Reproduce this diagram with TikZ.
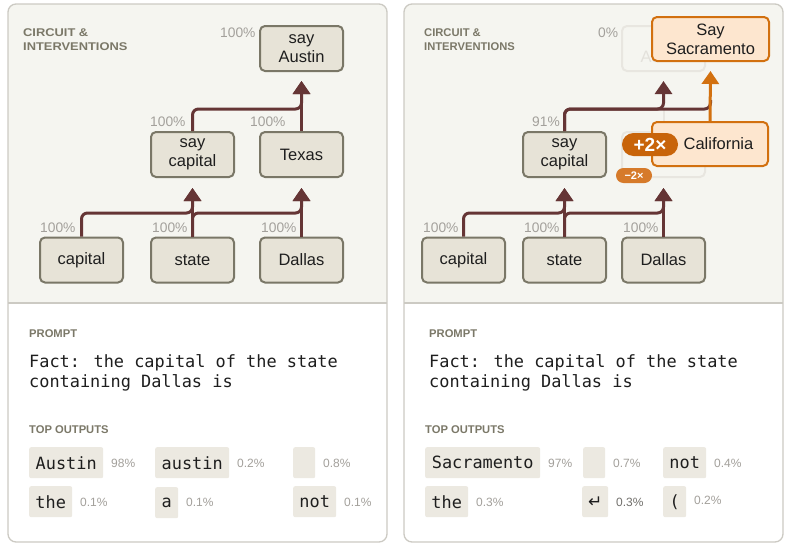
\documentclass[tikz,border=0pt]{standalone}
\usepackage{fontspec}
\setmainfont{Liberation Sans}
\newfontfamily\monof{DejaVu Sans Mono}
\newfontfamily\symf{DejaVu Sans}
\usetikzlibrary{arrows.meta}
\definecolor{panelbg}{HTML}{F5F5F0}
\definecolor{panelborder}{HTML}{CCCAC3}
\definecolor{nodefill}{HTML}{E7E3D7}
\definecolor{nodeborder}{HTML}{7A7767}
\definecolor{conncol}{HTML}{653535}
\definecolor{pctgray}{HTML}{A3A09B}
\definecolor{headcol}{HTML}{7B7868}
\definecolor{chipfill}{HTML}{ECE9E1}
\definecolor{orangeborder}{HTML}{D2700F}
\definecolor{orangefill}{HTML}{FDE6CF}
\definecolor{badgedark}{HTML}{C8640A}
\definecolor{badgelight}{HTML}{D67A2A}
\definecolor{ghostborder}{HTML}{E8E6E0}
\definecolor{ghosttext}{HTML}{E3E1DB}
\definecolor{inktext}{HTML}{1E1E1E}
\tikzset{
  box/.style={draw=nodeborder, fill=nodefill, line width=2pt, rounded corners=5pt,
    minimum width=83pt, minimum height=45pt, inner sep=0pt, align=center, text=inktext,
    font=\fontsize{16.5}{19}\selectfont},
  ghostbox/.style={box, draw=ghostborder, fill=panelbg, text=ghosttext},
  orangebox/.style={box, draw=orangeborder, fill=orangefill, minimum width=116pt, minimum height=44pt},
  pct/.style={anchor=west, inner sep=0pt, text=pctgray, font=\fontsize{13.8}{16}\selectfont},
  conn/.style={draw=conncol, line width=3pt, rounded corners=6pt, -{Triangle[length=13pt,width=17pt]}},
  orangeconn/.style={conn, draw=orangeborder},
  ghostconn/.style={draw=ghostborder, line width=2pt},
  chip/.style={fill=chipfill, rounded corners=2pt, minimum height=31pt, inner sep=0pt,
    anchor=north west, text=inktext, font=\monof\fontsize{16.9}{19}\selectfont},
  opct/.style={anchor=west, inner sep=0pt, text=pctgray, font=\fontsize{12}{14}\selectfont},
  sectlabel/.style={anchor=base west, inner sep=0pt, text=headcol, font=\bfseries\fontsize{11.2}{13}\selectfont},
  prompt/.style={anchor=base west, inner sep=0pt, text=inktext, font=\monof\fontsize{16.9}{20}\selectfont},
  panelline/.style={draw=panelborder, line width=1.3pt},
  badge/.style={rounded corners=11.5pt, minimum width=56pt, minimum height=23pt, inner sep=0pt,
    fill=badgedark, text=white, font=\bfseries\fontsize{19}{21}\selectfont},
  smallbadge/.style={rounded corners=7.5pt, minimum width=36pt, minimum height=15pt, inner sep=0pt,
    fill=badgelight, text=white, font=\bfseries\fontsize{11}{12}\selectfont}
}
\begin{document}
\begin{tikzpicture}[x=1pt,y=1pt]
\useasboundingbox (0,0) rectangle (788,-546);
% ---------- panels ----------
\begin{scope}
\clip[rounded corners=8pt] (8,-4) rectangle (387,-542);
\fill[white] (8,-4) rectangle (387,-542);
\fill[panelbg] (8,-4) rectangle (387,-303);
\end{scope}
\draw[panelline, rounded corners=8pt] (8,-4) rectangle (387,-542);
\draw[panelline] (8,-303) -- (387,-303);
\begin{scope}
\clip[rounded corners=8pt] (404,-4) rectangle (783,-542);
\fill[white] (404,-4) rectangle (783,-542);
\fill[panelbg] (404,-4) rectangle (783,-303);
\end{scope}
\draw[panelline, rounded corners=8pt] (404,-4) rectangle (783,-542);
\draw[panelline] (404,-303) -- (783,-303);

% ---------- left circuit ----------
\node[sectlabel] (Lh1) at (23,-36) {\scalebox{1.15}[1]{CIRCUIT \&}};
\node[sectlabel] (Lh2) at (23,-50) {\scalebox{1.15}[1]{INTERVENTIONS}};

\node[box] (Lcap) at (81.5,-260) {capital};
\node[box] (Lstate) at (192.5,-260) {state};
\node[box] (Ldal) at (301.5,-260) {Dallas};
\node[box] (Lsaycap) at (192.5,-154.5) {say\\capital};
\node[box] (Ltex) at (301.5,-154.5) {Texas};
\node[box] (Lsayaus) at (301.5,-48.5) {say\\Austin};

\node[pct] (Lp1) at (220,-33) {100\%};
\node[pct] (Lp2) at (150,-122) {100\%};
\node[pct] (Lp3) at (250,-122) {100\%};
\node[pct] (Lp4) at (40,-228) {100\%};
\node[pct] (Lp5) at (152,-228) {100\%};
\node[pct] (Lp6) at (261,-228) {100\%};

\draw[conn] (Lcap.north) |- ([yshift=-35pt]Lsaycap.south) -- ([yshift=-10pt]Lsaycap.south);
\draw[conn] (Lstate.north) -- ([yshift=-10pt]Lsaycap.south);
\draw[conn] (Lstate.north) |- ([yshift=-35pt]Ltex.south) -- ([yshift=-10pt]Ltex.south);
\draw[conn] (Ldal.north) -- ([yshift=-10pt]Ltex.south);
\draw[conn] (Lsaycap.north) |- ([yshift=-37pt]Lsayaus.south) -- ([yshift=-9pt]Lsayaus.south);
\draw[conn] (Ltex.north) -- ([yshift=-9pt]Lsayaus.south);

% ---------- right circuit ----------
\node[sectlabel] (Rh1) at (424,-36) {CIRCUIT \&};
\node[sectlabel] (Rh2) at (424,-50) {INTERVENTIONS};

\node[box] (Rcap) at (463.5,-260) {capital};
\node[box] (Rstate) at (564.5,-260) {state};
\node[box] (Rdal) at (663.5,-260) {Dallas};
\node[box] (Rsaycap) at (564.5,-154.5) {say\\capital};
\node[ghostbox] (Rtex) at (663.5,-154.5) {};
\node[ghostbox] (Rsayaus) at (663.5,-48.5) {\phantom{say}\\Au\phantom{stin}};

\node[pct] (Rp1) at (598,-33) {0\%};
\node[pct] (Rp2) at (532,-122) {91\%};
\node[pct] (Rp4) at (423,-228) {100\%};
\node[pct] (Rp5) at (524,-228) {100\%};
\node[pct] (Rp6) at (623,-228) {100\%};

\draw[ghostconn] (Rtex.north) -- ([yshift=-37pt]Rsayaus.south);
\draw[conn] (Rcap.north) |- ([yshift=-35pt]Rsaycap.south) -- ([yshift=-10pt]Rsaycap.south);
\draw[conn] (Rstate.north) -- ([yshift=-10pt]Rsaycap.south);
\draw[conn] (Rstate.north) |- ([yshift=-35pt]Rtex.south) -- ([yshift=-10pt]Rtex.south);
\draw[conn] (Rdal.north) -- ([yshift=-10pt]Rtex.south);
\draw[conn] (Rsaycap.north) |- ([yshift=-37pt]Rsayaus.south) -- ([yshift=-9pt]Rsayaus.south);

\node[orangebox] (Rcal) at (710,-144) {\hspace*{17pt}California};
\node[orangebox, minimum width=117pt] (Rsac) at (710.5,-39) {Say\\Sacramento};
\draw[conn, -] (Rsaycap.north) |- ([yshift=-47pt]Rsac.south) -- ([yshift=-38pt]Rsac.south);
\draw[orangeconn] (Rcal.north) -- ([yshift=-9pt]Rsac.south);
\node[badge] (Rplus) at (650,-144.5) {+2×};
\node[smallbadge] (Rminus) at (634,-175.5) {−2×};

% ---------- left bottom ----------
\node[sectlabel] (Lpr) at (29,-337.5) {PROMPT};
\node[prompt] (Lq1) at (29,-367) {Fact: the capital of the state};
\node[prompt] (Lq2) at (29,-387) {containing Dallas is};
\node[sectlabel] (Lto) at (29,-433) {TOP OUTPUTS};

\node[chip, minimum width=74pt] (Lc1) at (29,-447) {Austin};
\node[opct] (Lo1) at (111,-463) {98\%};
\node[chip, minimum width=74pt] (Lc2) at (155,-447) {austin};
\node[opct] (Lo2) at (237,-463) {0.2\%};
\node[chip, minimum width=22pt] (Lc3) at (293,-447) {};
\node[opct] (Lo3) at (323,-463) {0.8\%};
\node[chip, minimum width=43pt] (Lc4) at (29,-486) {the};
\node[opct] (Lo4) at (80,-502) {0.1\%};
\node[chip, minimum width=23pt] (Lc5) at (155,-487) {a};
\node[opct] (Lo5) at (186,-502) {0.1\%};
\node[chip, minimum width=43pt] (Lc6) at (293,-486) {not};
\node[opct] (Lo6) at (344,-502) {0.1\%};

% ---------- right bottom ----------
\node[sectlabel] (Rpr) at (429,-337.5) {PROMPT};
\node[prompt] (Rq1) at (429,-367) {Fact: the capital of the state};
\node[prompt] (Rq2) at (429,-387) {containing Dallas is};
\node[sectlabel] (Rto) at (425,-433) {TOP OUTPUTS};

\node[chip, minimum width=115pt] (Rc1) at (425,-447) {Sacramento};
\node[opct] (Ro1) at (548,-463) {97\%};
\node[chip, minimum width=22pt] (Rc2) at (583,-447) {};
\node[opct] (Ro2) at (613,-463) {0.7\%};
\node[chip, minimum width=43pt] (Rc3) at (663,-447) {not};
\node[opct] (Ro3) at (714,-463) {0.4\%};
\node[chip, minimum width=43pt] (Rc4) at (425,-486) {the};
\node[opct] (Ro4) at (476,-502) {0.3\%};
\node[chip, minimum width=26pt] (Rc5) at (582,-486) {\symf\fontsize{17}{19}\selectfont ↵};
\node[opct, text=pctgray!70!black] (Ro5) at (616,-502) {0.3\%};
\node[chip, minimum width=23pt] (Rc6) at (663,-486) {(};
\node[opct] (Ro6) at (694,-500) {0.2\%};
\end{tikzpicture}
\end{document}
